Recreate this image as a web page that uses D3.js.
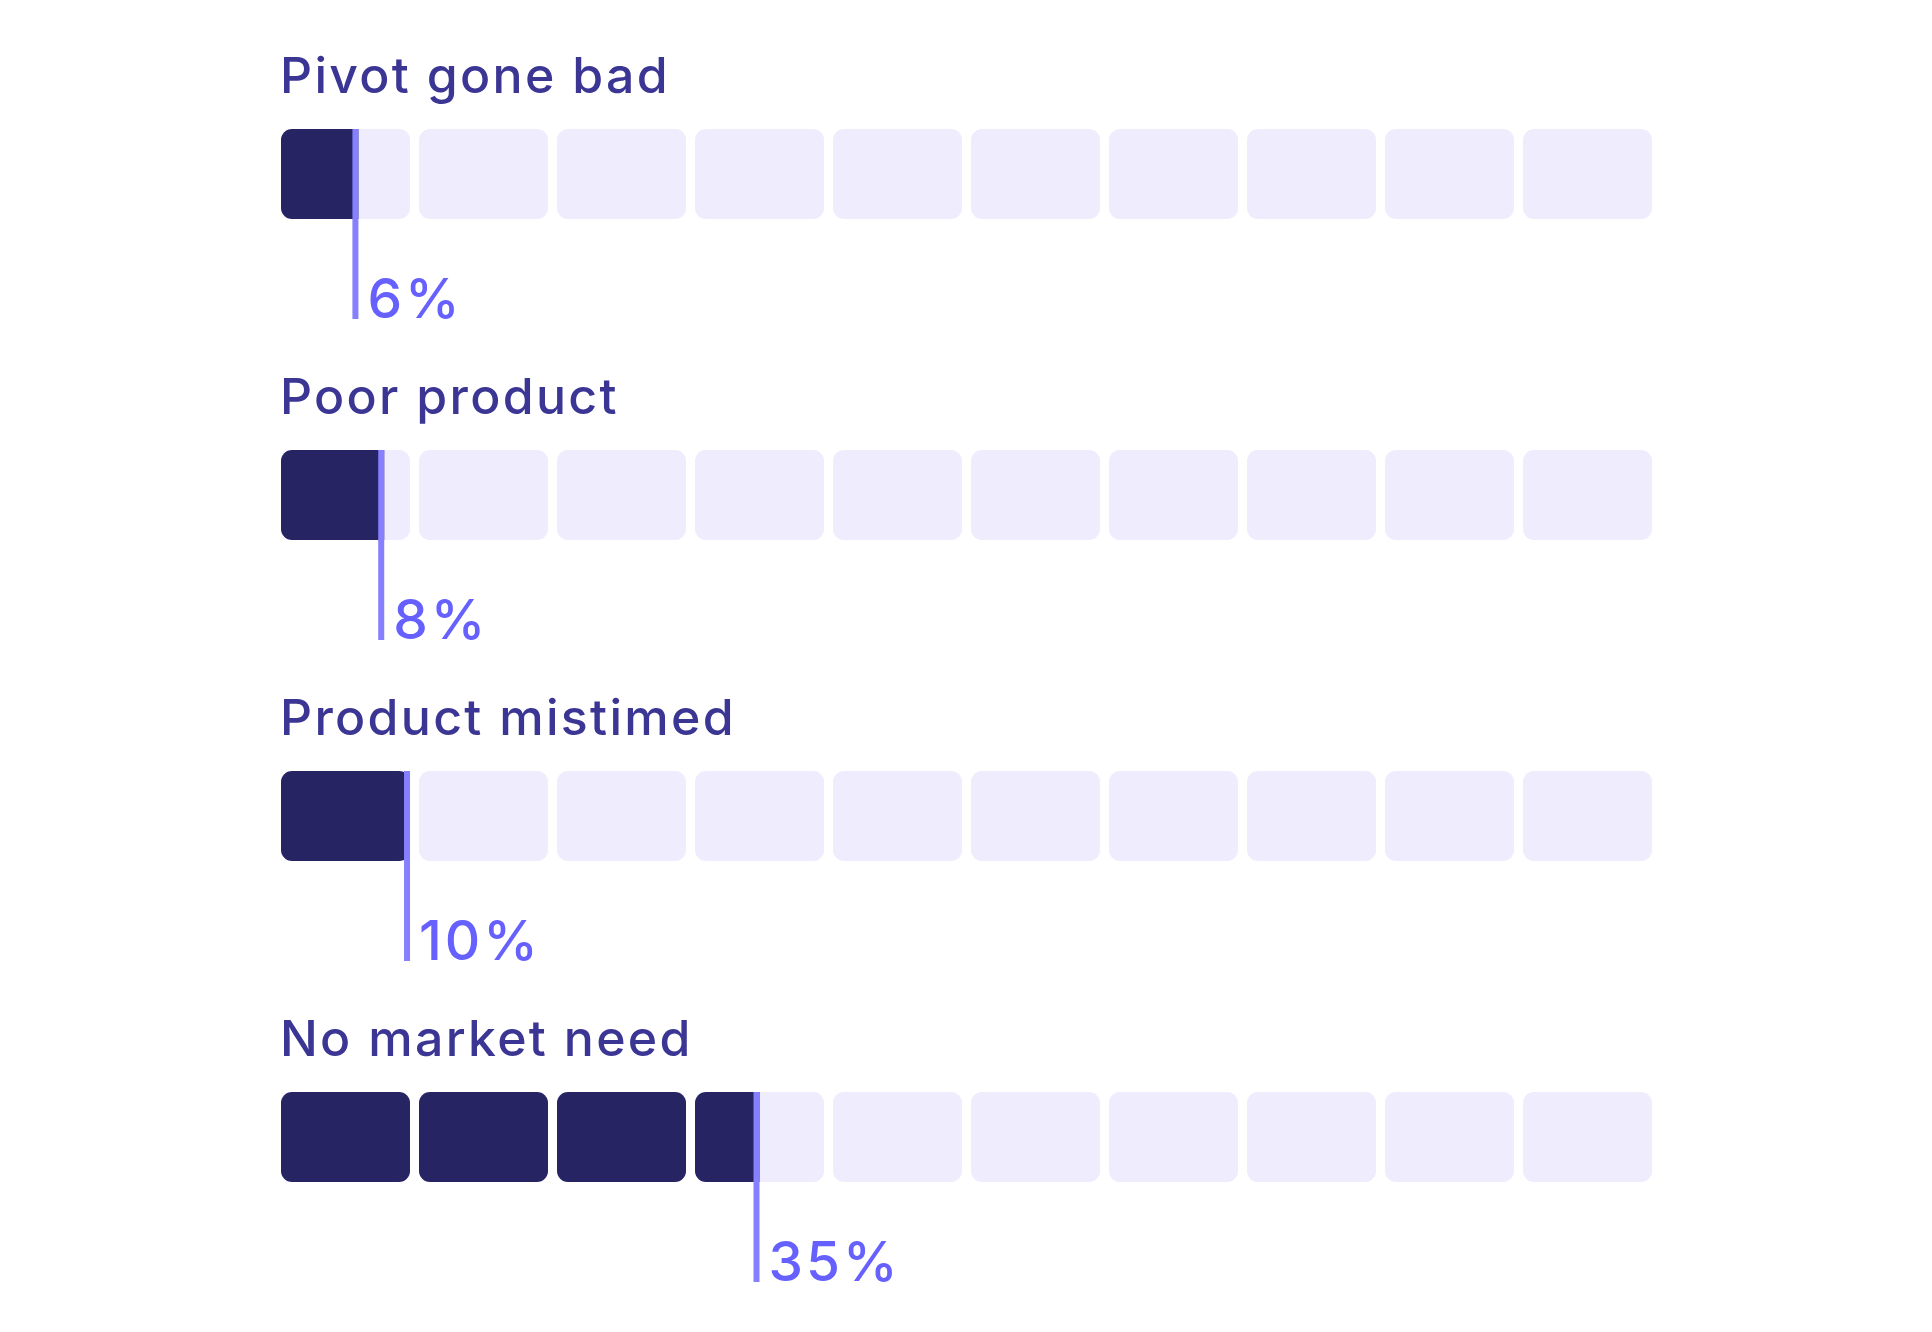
<!DOCTYPE html>
<html>
<head>
<meta charset="utf-8">
<script src="https://cdn.jsdelivr.net/npm/d3@7"></script>
<style>
  html, body { margin: 0; padding: 0; background: #ffffff; }
  svg { display: block; }
</style>
</head>
<body>
<svg id="chart" width="1932" height="1332"></svg>
<script>
// Data
const categories = ["Pivot gone bad", "Poor product", "Product mistimed", "No market need"];
const values = [6, 8, 10, 35];
const valueLabels = ["6%", "8%", "10%", "35%"];
const blockSteps = [0, 10, 20, 30, 40, 50, 60, 70, 80, 90]; // each block = 10%

// Styling / layout
const colors = {
  title: "#3b3594",
  label: "#6660ff",
  marker: "#8680ff",
  filled: "#262462",
  empty: "#efecfd"
};
const blockH = 90;
const radius = 11;
const markerW = 6;
const markerLen = 190;

const svg = d3.select("#chart");

const xBlock = d3.scaleBand()
  .domain(blockSteps)
  .range([281, 1652])
  .paddingInner(0.065)
  .paddingOuter(0);

const yRow = d3.scalePoint()
  .domain(categories)
  .range([129, 1092]);

// position of a value (in %) along the blocks
function valuePos(v) {
  const idx = Math.min(Math.floor(v / 10), blockSteps.length - 1);
  const frac = (v - blockSteps[idx]) / 10;
  if (frac === 0 && idx > 0) {
    return xBlock(blockSteps[idx - 1]) + xBlock.bandwidth();
  }
  return xBlock(blockSteps[idx]) + frac * xBlock.bandwidth();
}

const defs = svg.append("defs");

categories.forEach((cat, ri) => {
  const v = values[ri];
  const top = yRow(cat);
  const g = svg.append("g");

  // title
  g.append("text")
    .attr("x", 280)
    .attr("y", top - 36)
    .attr("fill", colors.title)
    .attr("font-family", "Inter, 'Noto Sans', sans-serif")
    .attr("font-weight", 500)
    .attr("font-size", 50)
    .attr("letter-spacing", 2.3)
    .text(cat);

  blockSteps.forEach((b, bi) => {
    const bx = xBlock(b);
    const bw = xBlock.bandwidth();
    const clipId = `clip-${ri}-${bi}`;
    defs.append("clipPath").attr("id", clipId)
      .append("rect")
      .attr("x", bx).attr("y", top)
      .attr("width", bw).attr("height", blockH)
      .attr("rx", radius).attr("ry", radius);

    g.append("rect")
      .attr("x", bx).attr("y", top)
      .attr("width", bw).attr("height", blockH)
      .attr("rx", radius).attr("ry", radius)
      .attr("fill", colors.empty);

    const frac = Math.max(0, Math.min(1, (v - b) / 10));
    if (frac > 0) {
      g.append("rect")
        .attr("clip-path", `url(#${clipId})`)
        .attr("x", bx).attr("y", top)
        .attr("width", frac * bw).attr("height", blockH)
        .attr("fill", colors.filled);
    }
  });

  const px = valuePos(v);
  g.append("rect")
    .attr("x", px - markerW)
    .attr("y", top)
    .attr("width", markerW)
    .attr("height", markerLen)
    .attr("fill", colors.marker);

  g.append("text")
    .attr("x", px + 9)
    .attr("y", top + markerLen - 1)
    .attr("fill", colors.label)
    .attr("font-family", "Inter, 'Noto Sans', sans-serif")
    .attr("font-weight", 500)
    .attr("font-size", 55)
    .attr("letter-spacing", 3)
    .text(valueLabels[ri]);
});
</script>
</body>
</html>
